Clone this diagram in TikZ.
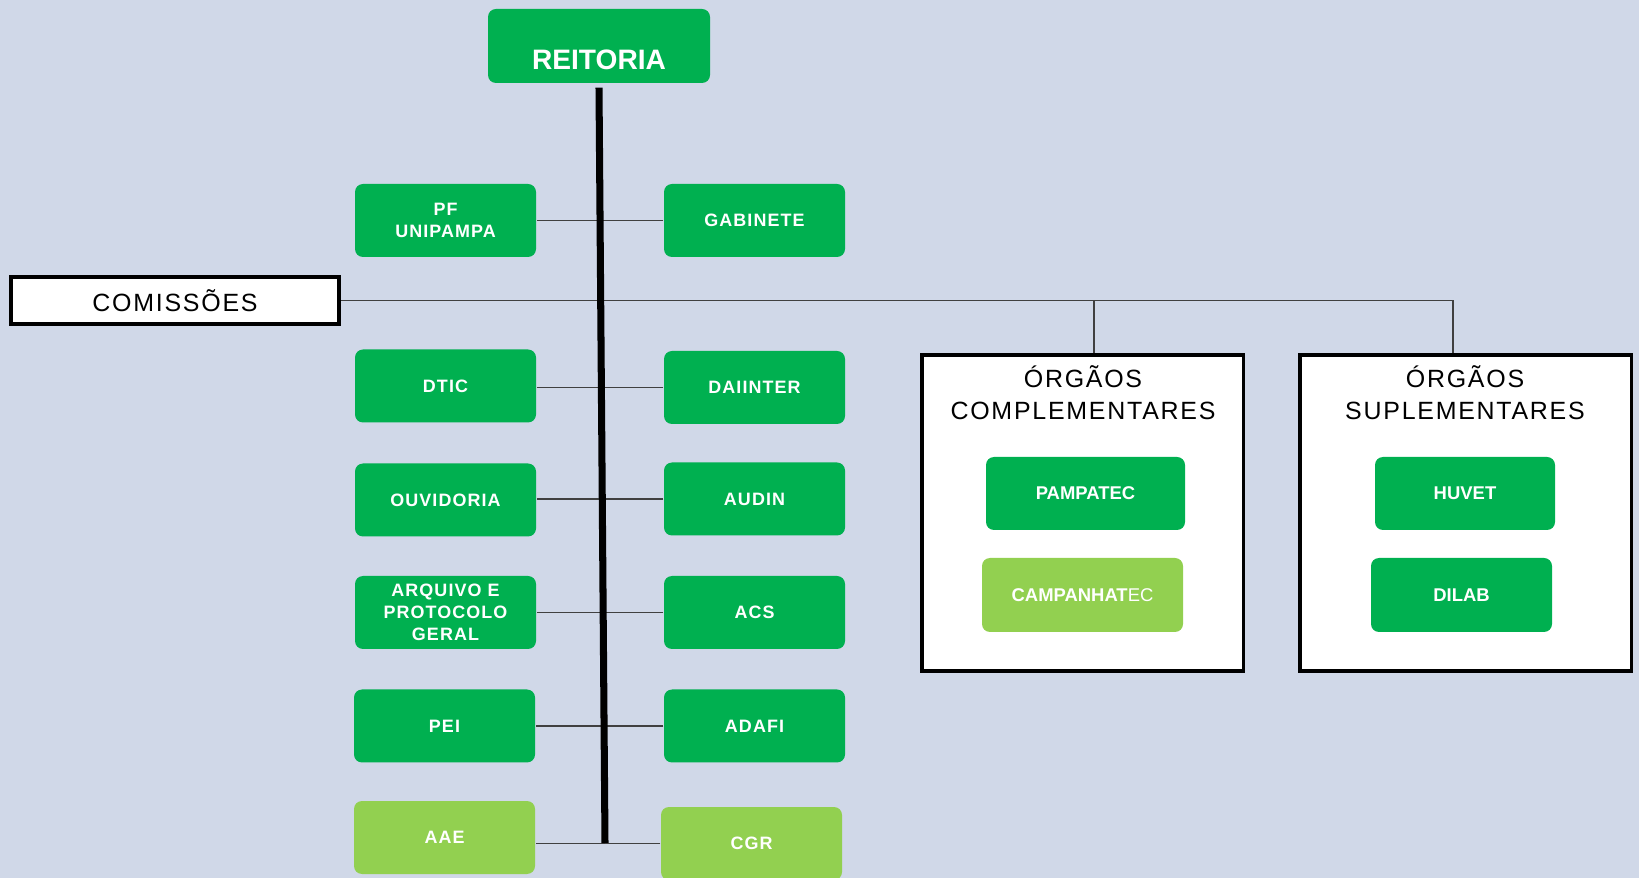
\documentclass[tikz,border=0pt]{standalone}
\usepackage{fontspec}
\setmainfont{Liberation Sans}
\newfontfamily\boxfont[LetterSpace=6]{Liberation Sans}
\newfontfamily\headfont[LetterSpace=7]{Liberation Sans}
\definecolor{verde}{HTML}{00B050}
\definecolor{verdeclaro}{HTML}{92D050}
\definecolor{fundo}{HTML}{D0D8E8}
\definecolor{linha}{HTML}{404040}

\begin{document}
\begin{tikzpicture}[
		unid/.style = {fill = verde, rounded corners = 0.08cm, minimum width = 1.81cm, minimum height = 0.73cm, inner sep = 0pt, text = white, align = center, font = \boxfont\bfseries\fontsize{5.1}{6.3}\selectfont},
		claro/.style = {unid, fill = verdeclaro},
		orgao/.style = {unid, font = \bfseries\fontsize{5.25}{6.3}\selectfont},
		painel/.style = {draw, line width = 1pt, fill = white, inner sep = 0pt},
		titulo/.style = {font = \headfont\fontsize{7.1}{9.1}\selectfont, align = center},
		liga/.style = {draw = linha, line width = 0.35pt}]
		\useasboundingbox (0, 0) rectangle (16.39, -8.78);
		\clip (0, 0) rectangle (16.39, -8.78);
		\fill [fundo] (0, 0) rectangle (16.39, -8.78);
		%%%%%%%%%%%%%
		\node [unid, minimum width = 2.22cm, minimum height = 0.74cm, text height = 0.47cm, text depth = 0cm, font = \bfseries\fontsize{8}{9}\selectfont] (r) at (5.99, -0.46) {REITORIA};
		\node [painel, titulo, minimum width = 3.285cm, minimum height = 0.475cm] (com) at (1.75, -3.005) {COMISSÕES};
		%%%%%%%%%%%%%
		\node [unid] (a1) at (4.455, -2.205) {PF\\UNIPAMPA};
		\node [unid] (a2) at (4.455, -3.86) {DTIC};
		\node [unid] (a3) at (4.455, -5.00) {OUVIDORIA};
		\node [unid] (a4) at (4.455, -6.125) {ARQUIVO E\\PROTOCOLO\\GERAL};
		\node [unid] (a5) at (4.445, -7.26) {PEI};
		\node [claro] (a6) at (4.445, -8.375) {AAE};
		\node [unid] (b1) at (7.545, -2.205) {GABINETE};
		\node [unid] (b2) at (7.545, -3.875) {DAIINTER};
		\node [unid] (b3) at (7.545, -4.99) {AUDIN};
		\node [unid] (b4) at (7.545, -6.125) {ACS};
		\node [unid] (b5) at (7.545, -7.26) {ADAFI};
		\node [claro] (b6) at (7.515, -8.435) {CGR};
		%%%%%%%%%%%%%
		\coordinate (base) at (6.05, -8.43);
		\coordinate (j1) at (10.94, -3.005);
		\coordinate (j2) at (14.53, -3.005);
		\draw [liga] (com.east) -- (j2) -- (j2 |- 0, -3.53); \draw [liga] (j1) -- (j1 |- 0, -3.53);
		\draw [liga] (b1.west) -- (b1.west -| a1.east); \draw [liga] (b2.west) -- (b2.west -| a2.east);
		\draw [liga] (b3.west) -- (b3.west -| a3.east); \draw [liga] (b4.west) -- (b4.west -| a4.east);
		\draw [liga] (b5.west) -- (b5.west -| a5.east); \draw [liga] (b6.west) -- (b6.west -| a6.east);
		\draw [line width = 2pt] ([yshift = -0.04cm] r.south) -- (base);
		%%%%%%%%%%%%%
		\node [painel, minimum width = 3.215cm, minimum height = 3.165cm] (comp) at (10.825, -5.13) {};
		\node [painel, minimum width = 3.315cm, minimum height = 3.165cm] (sup) at (14.655, -5.13) {};
		\node [titulo] (compt) at (10.83, -3.93) {ÓRGÃOS\\COMPLEMENTARES};
		\node [titulo] (supt) at (14.65, -3.93) {ÓRGÃOS\\SUPLEMENTARES};
		\node [orgao, minimum width = 1.99cm] (c1) at (10.855, -4.935) {PAMPATEC};
		\node [orgao, fill = verdeclaro, minimum width = 2.01cm, minimum height = 0.74cm] (c2) at (10.825, -5.95) {CAMPANHAT{\mdseries EC}};
		\node [orgao, minimum width = 1.80cm] (d1) at (14.65, -4.935) {HUVET};
		\node [orgao, minimum height = 0.74cm] (d2) at (14.615, -5.95) {DILAB};
\end{tikzpicture}
\end{document}
